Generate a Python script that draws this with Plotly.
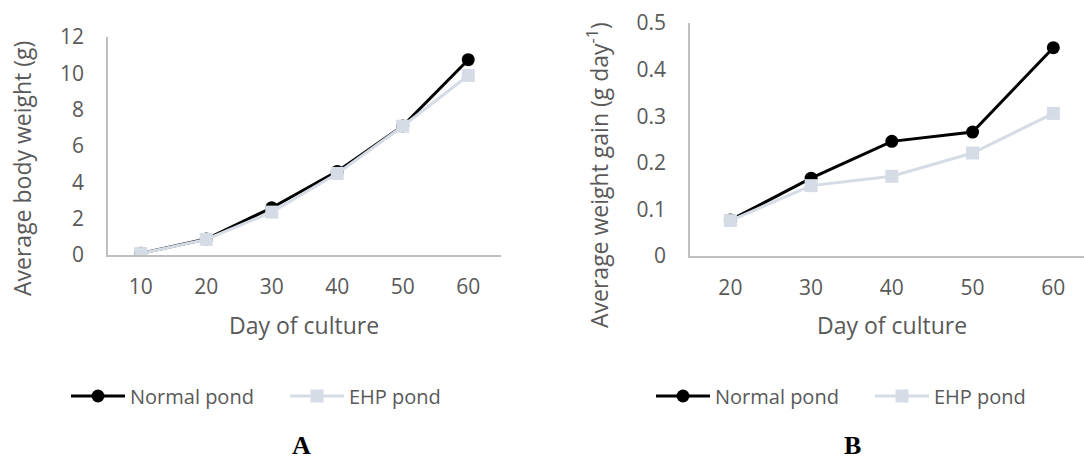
import plotly.graph_objects as go

days_a = ["10", "20", "30", "40", "50", "60"]
normal_a = [0.09, 0.88, 2.6, 4.6, 7.1, 10.75]
ehp_a = [0.08, 0.86, 2.36, 4.49, 7.09, 9.88]

days_b = ["20", "30", "40", "50", "60"]
normal_b = [0.077, 0.167, 0.246, 0.266, 0.447]
ehp_b = [0.076, 0.151, 0.171, 0.221, 0.306]

FONT = "Open Sans"
GREY = "#595959"
AX = "#bfbfbf"
BLACK = "#000000"
LIGHT = "#d6dce5"

W, H = 1084, 474

fig = go.Figure()

def add(x, y, name, color, symbol, xa, ya, legend):
    fig.add_trace(go.Scatter(
        x=x, y=y, name=name, mode="lines+markers",
        line=dict(color=color, width=3),
        marker=dict(color=color, symbol=symbol, size=13),
        xaxis=xa, yaxis=ya, legend=legend, showlegend=True,
    ))

add(days_a, normal_a, "Normal pond", BLACK, "circle", "x", "y", "legend")
add(days_a, ehp_a, "EHP pond", LIGHT, "square", "x", "y", "legend")
add(days_b, normal_b, "Normal pond", BLACK, "circle", "x2", "y2", "legend2")
add(days_b, ehp_b, "EHP pond", LIGHT, "square", "x2", "y2", "legend2")

tickfont = dict(family=FONT, size=21, color=GREY)
titlefont = dict(family=FONT, size=23, color=GREY)

def px(x):
    return x / W

def py(y):
    return (H - y) / H

common_x = dict(type="category", showline=True, linecolor=AX, linewidth=1.5,
                showgrid=False, zeroline=False, ticks="", tickfont=tickfont,
                ticklabelstandoff=12, automargin=False)
common_y = dict(showline=True, linecolor=AX, linewidth=1.5, showgrid=False,
                zeroline=False, ticks="", tickfont=tickfont, ticklabelstandoff=18,
                automargin=False)

def title(text, x, y, angle=0):
    return dict(text=text, x=px(x), y=py(y), xref="paper", yref="paper",
                xanchor="center", yanchor="middle", showarrow=False,
                textangle=angle, font=titlefont)

legend_common = dict(orientation="h", y=py(396), xanchor="left", yanchor="middle",
                     font=dict(family=FONT, size=20, color=GREY), itemwidth=54,
                     entrywidth=150, entrywidthmode="pixels",
                     bgcolor="rgba(0,0,0,0)")

fig.update_layout(
    width=W, height=H,
    margin=dict(l=0, r=0, t=0, b=0, autoexpand=False),
    paper_bgcolor="white", plot_bgcolor="white",
    font=dict(family=FONT, color=GREY),
    xaxis=dict(common_x, domain=[px(108), px(501)], range=[-0.5, 5.5], anchor="y"),
    yaxis=dict(common_y, domain=[py(255), py(37)], range=[0, 12], dtick=2, anchor="x"),
    xaxis2=dict(common_x, domain=[px(690), 1.0], range=[-0.5, 4.38], anchor="y2"),
    yaxis2=dict(common_y, domain=[py(256), py(23)], range=[0, 0.5], dtick=0.1, anchor="x2"),
    legend=dict(legend_common, x=px(66)),
    legend2=dict(legend_common, x=px(651)),
    annotations=[
        title("Day of culture", 304, 325),
        title("Day of culture", 892, 325),
        title("Average body weight (g)", 22, 169, -90),
        title("Average weight gain (g day<sup>-1</sup>)", 598, 175, -90),
        dict(text="<b>A</b>", x=px(290), y=py(462), xref="paper", yref="paper",
             showarrow=False, font=dict(family="Liberation Serif", size=26, color="black")),
        dict(text="<b>B</b>", x=px(863), y=py(462), xref="paper", yref="paper",
             showarrow=False, font=dict(family="Liberation Serif", size=26, color="black")),
    ],
)

fig.write_html("out.html")
